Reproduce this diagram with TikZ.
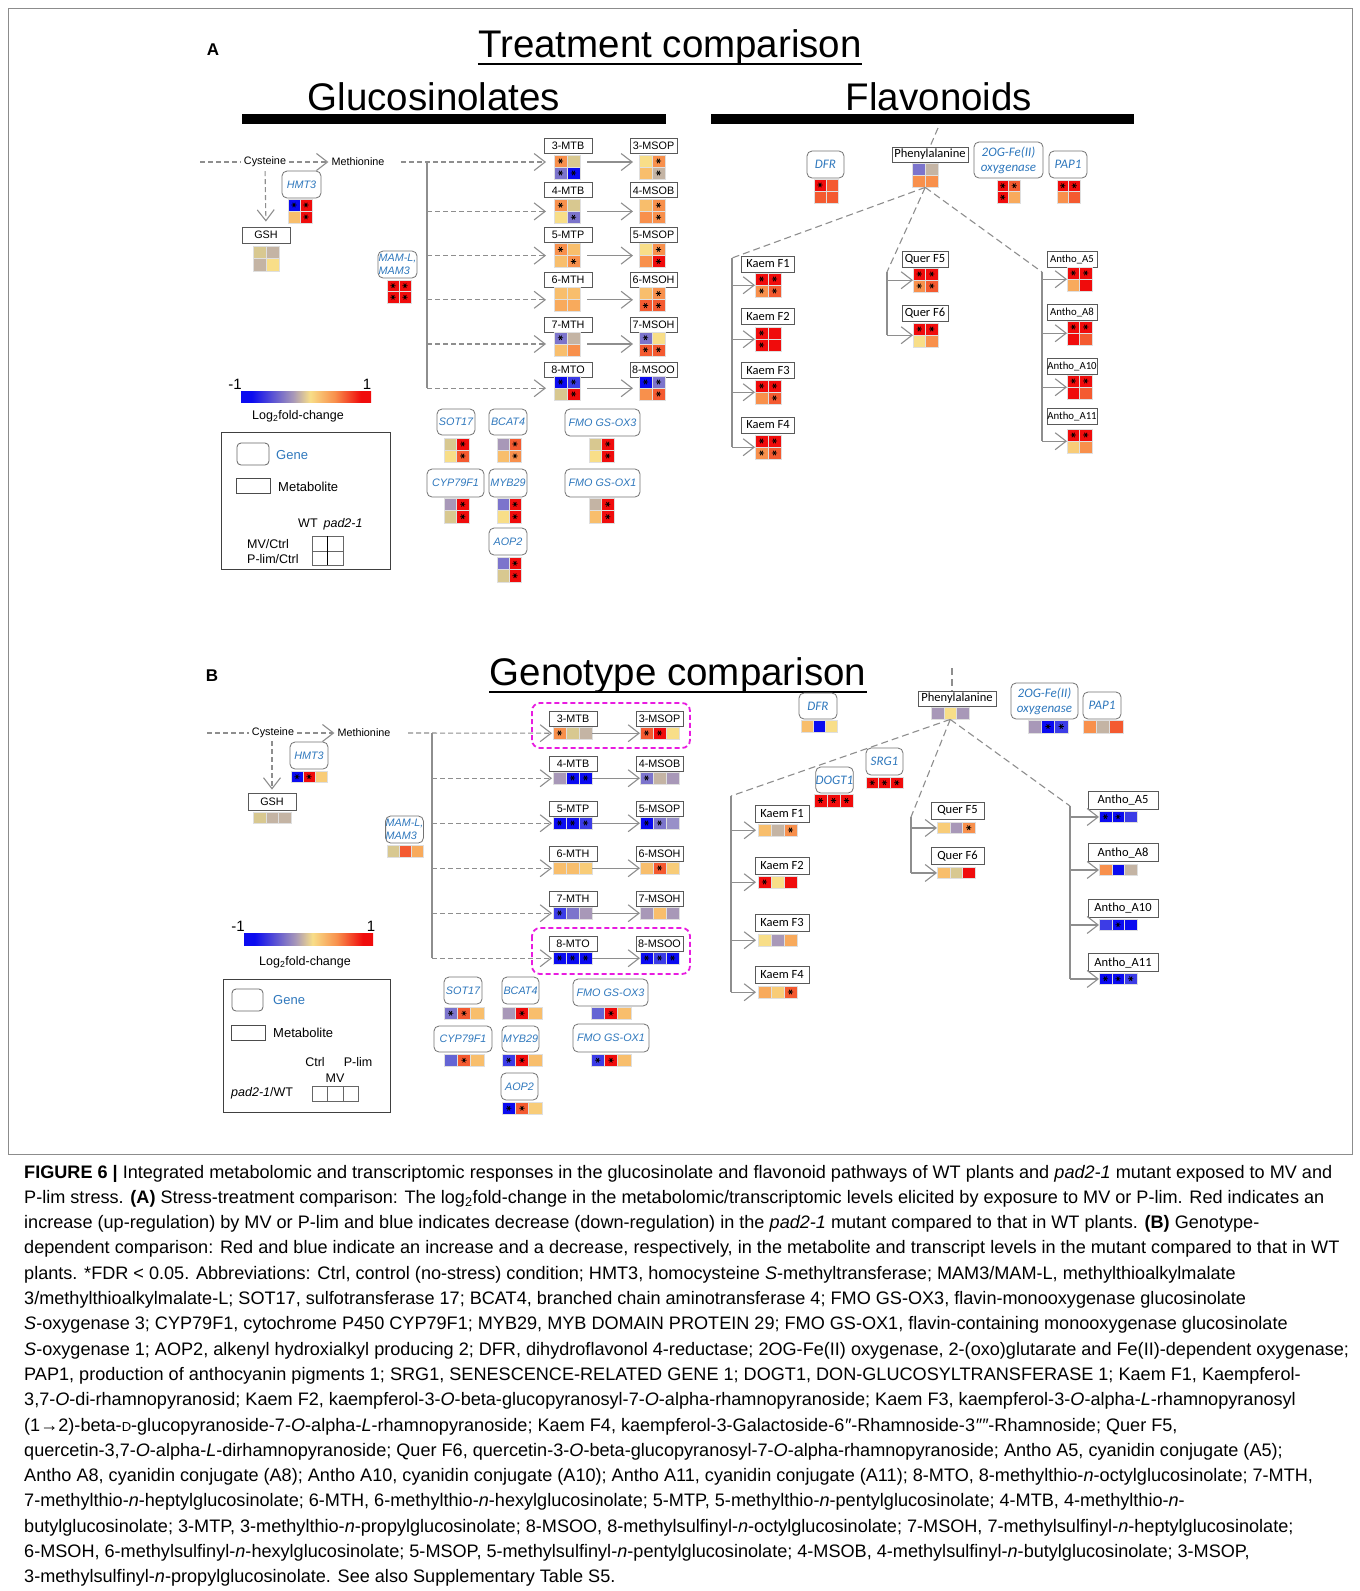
\documentclass[tikz,border=0pt]{standalone}
\usepackage{fontspec}
\setmainfont{Liberation Sans}
\newfontfamily\cfont{Carlito}
\usetikzlibrary{arrows.meta}
\definecolor{hB}{HTML}{0B0BF0}
\definecolor{hB2}{HTML}{3C3CE6}
\definecolor{hLBd}{HTML}{6464D4}
\definecolor{hLB}{HTML}{7C74CC}
\definecolor{hLB2}{HTML}{9890C8}
\definecolor{hLG}{HTML}{A898B8}
\definecolor{hGT}{HTML}{C4B4A4}
\definecolor{hT}{HTML}{D8C890}
\definecolor{hY}{HTML}{F8DE88}
\definecolor{hYO}{HTML}{F8CC78}
\definecolor{hLO}{HTML}{F8BE6C}
\definecolor{hLO2}{HTML}{F8AA5C}
\definecolor{hO}{HTML}{F8904C}
\definecolor{hDO}{HTML}{F45A30}
\definecolor{hR}{HTML}{F00C0C}
\definecolor{genec}{HTML}{2F78BD}
\definecolor{ln}{HTML}{8E8E8E}
\definecolor{mag}{HTML}{E81CE0}
\pgfdeclarehorizontalshading{fcbar}{100bp}{color(0bp)=(hB); color(29bp)=(hB); color(45bp)=(hLG); color(51.5bp)=(hY); color(61bp)=(hO); color(71bp)=(hR); color(100bp)=(hR)}
\newcommand\fsz[1]{\fontsize{#1}{#1}\selectfont}
\newcommand\fszl[2]{\fontsize{#1}{#2}\selectfont}
\newcommand\starat[2]{%
  \pgfmathsetmacro\sxx{#1}\pgfmathsetmacro\syy{#2}%
  \draw[black, line width=0.75] ({\sxx-2.6},{\syy}) -- ({\sxx+2.6},{\syy})
    ({\sxx-1.3},{\syy-2.25}) -- ({\sxx+1.3},{\syy+2.25})
    ({\sxx-1.3},{\syy+2.25}) -- ({\sxx+1.3},{\syy-2.25});}
% name, x, y, cell w, cell h, ncols, nrows, list
\newcommand\hm[8]{%
  \foreach \cc/\ss [count=\ii from 0] in {#8}{%
    \pgfmathtruncatemacro\hcol{mod(\ii,#6)}%
    \pgfmathtruncatemacro\hrow{div(\ii,#6)}%
    \pgfmathsetmacro\hx{#2+\hcol*#4}%
    \pgfmathsetmacro\hy{#3+\hrow*#5}%
    \fill[\cc] (\hx,\hy) rectangle ++(#4,#5);
    \draw[white!75!gray, line width=0.4] (\hx,\hy) rectangle ++(#4,#5);
    \ifnum\ss=1 \starat{\hx+#4/2}{\hy+#5/2}\fi
  }%
  \path (#2,#3) node[name=#1, anchor=north west, inner sep=0, minimum width={#6*#4}, minimum height={#7*#5}] {};
}
\begin{document}
\begin{tikzpicture}[x=1pt,y=-1pt,
  solidln/.style={ln, line width=1.1},
  dashln/.style={ln, line width=1.1, dash pattern=on 5pt off 3pt},
  dashlong/.style={ln, line width=1.1, dash pattern=on 7pt off 4pt},
  openarr/.style={-{Straight Barb[length=11pt,width=17pt]}},
  metbox/.style={draw=black!65, line width=0.8, fill=white, inner sep=0, font=\fsz{10.8}},
  flbox/.style={draw=black!65, line width=0.8, fill=white, inner sep=0, font=\cfont\fsz{12.5}},
  genebox/.style={draw=black!55, line width=0.8, rounded corners=5, fill=white, inner sep=0, text=genec, font=\itshape\fsz{10.8}, align=center},
  fgenebox/.style={genebox, font=\cfont\itshape\fszl{13}{15}},
  txt/.style={inner sep=0, font=\fsz{10.8}},
  captxt/.style={anchor=base west, inner sep=0, font=\fsz{18.1}},
  ttl/.style={anchor=base, inner sep=0, font=\fsz{38.5}},
  lgtxt/.style={inner sep=0, font=\fsz{12.5}},
]
\useasboundingbox (0,0) rectangle (1360,1591);
\fill[white] (0,0) rectangle (1360,1591);
\draw[black!45, line width=1] (8,8) rectangle (1352,1154);

% ================= PANEL A =================
\node[anchor=base, inner sep=0, font=\bfseries\fsz{17}] (labA) at (213,55) {A};
\node[ttl] (ttA) at (670,57) {Treatment comparison};
\draw[line width=1.6] ([yshift=-7pt]ttA.base west) -- ([yshift=-7pt]ttA.base east);
\node[ttl] (glu) at (434,110) {Glucosinolates};
\node[ttl] (flv) at (939,110) {Flavonoids};
\node[fill=black, inner sep=0, minimum width=424, minimum height=10, anchor=north west] (barG) at (242,114) {};
\node[fill=black, inner sep=0, minimum width=423, minimum height=10, anchor=north west] (barF) at (711,114) {};

% cysteine / methionine
\coordinate (cysAL) at (200,162);
\node[txt] (cysA) at (265,162) {Cysteine};
\node[txt] (metA) at (358,162) {Methionine};
\coordinate (metAR) at (401,162);
\coordinate (vAt) at (427,162);
\draw[dashln] (cysAL) -- ([xshift=-3pt]cysA.west);
\draw[dashln, openarr] ([xshift=3pt]cysA.east) -- ([xshift=-3pt]metA.west);
\node[metbox, minimum width=48, minimum height=16] (gshA) at (266,235) {GSH};
\draw[dashln, openarr, shorten <=4pt, shorten >=5pt] (cysA.south) -- (gshA.north);
\hm{hgshA}{253}{246}{13}{12.5}{2}{2}{hT/0,hGT/0,hGT/0,hY/0}
\node[genebox, minimum width=39, minimum height=27] (hmtA) at (301.5,184.5) {HMT3};
\hm{hhmtA}{288}{199}{12}{12}{2}{2}{hB/1,hR/1,hLO/0,hR/1}
\node[genebox, minimum width=39, minimum height=27, align=left, font=\itshape\fszl{10.8}{13}] (mamA) at (397.5,264.5) {MAM-L,\\MAM3};
\hm{hmamA}{387}{280}{12}{11.5}{2}{2}{hR/1,hR/1,hR/1,hR/1}

% metabolite rows A
\node[metbox, minimum width=48, minimum height=15] (mA0) at (568,145.5) {3-MTB};
\node[metbox, minimum width=47, minimum height=15] (nA0) at (653.5,145.5) {3-MSOP};
\hm{hmA0}{554}{155}{13}{12}{2}{2}{hO/1,hT/0,hLB/1,hB/1}
\hm{hnA0}{639}{155}{13}{12}{2}{2}{hY/0,hO/1,hLO/0,hGT/1}
\node[metbox, minimum width=48, minimum height=15] (mA1) at (568,190.3) {4-MTB};
\node[metbox, minimum width=47, minimum height=15] (nA1) at (653.5,190.3) {4-MSOB};
\hm{hmA1}{554}{199.2}{13}{12}{2}{2}{hO/1,hT/0,hY/0,hLB/1}
\hm{hnA1}{639}{199.2}{13}{12}{2}{2}{hLO/0,hO/1,hO/0,hO/1}
\node[metbox, minimum width=48, minimum height=15] (mA2) at (568,235.1) {5-MTP};
\node[metbox, minimum width=47, minimum height=15] (nA2) at (653.5,235.1) {5-MSOP};
\hm{hmA2}{554}{243.4}{13}{12}{2}{2}{hO/1,hLO/0,hLO/0,hO/1}
\hm{hnA2}{639}{243.4}{13}{12}{2}{2}{hY/0,hO/1,hO/0,hR/1}
\node[metbox, minimum width=48, minimum height=15] (mA3) at (568,279.9) {6-MTH};
\node[metbox, minimum width=47, minimum height=15] (nA3) at (653.5,279.9) {6-MSOH};
\hm{hmA3}{554}{287.6}{13}{12}{2}{2}{hLO/0,hLO/0,hLO2/0,hLO2/0}
\hm{hnA3}{639}{287.6}{13}{12}{2}{2}{hLO/0,hO/1,hDO/1,hDO/1}
\node[metbox, minimum width=48, minimum height=15] (mA4) at (568,324.7) {7-MTH};
\node[metbox, minimum width=47, minimum height=15] (nA4) at (653.5,324.7) {7-MSOH};
\hm{hmA4}{554}{331.8}{13}{12}{2}{2}{hLB/1,hGT/0,hLO/0,hO/0}
\hm{hnA4}{639}{331.8}{13}{12}{2}{2}{hLB/1,hY/0,hDO/1,hDO/1}
\node[metbox, minimum width=48, minimum height=15] (mA5) at (568,369.5) {8-MTO};
\node[metbox, minimum width=47, minimum height=15] (nA5) at (653.5,369.5) {8-MSOO};
\hm{hmA5}{554}{376}{13}{12}{2}{2}{hB/1,hB2/1,hT/0,hR/1}
\hm{hnA5}{639}{376}{13}{12}{2}{2}{hB/1,hLB/1,hO/0,hDO/1}

\draw[solidln] (vAt) -- (vAt |- hmA5.west);
\draw[dashln, openarr, shorten >=8pt] (metAR) -- (hmA0.west |- metAR);
\draw[solidln, openarr, shorten <=7pt, shorten >=6pt] (hmA0.east |- metAR) -- (hnA0.west |- metAR);
\foreach \k in {1,...,5}{
  \draw[dashln, openarr, shorten >=8pt] (vAt |- hmA\k.west) -- (hmA\k.west);
  \draw[solidln, openarr, shorten <=7pt, shorten >=6pt] (hmA\k.east) -- (hnA\k.west);
}

% genes A
\node[genebox, minimum width=38, minimum height=26] (sotA) at (456,422) {SOT17};
\hm{hsotA}{444}{438}{12.5}{12}{2}{2}{hT/0,hR/1,hY/0,hDO/1}
\node[genebox, minimum width=38, minimum height=26] (bcaA) at (508,422) {BCAT4};
\hm{hbcaA}{497}{438}{12}{12}{2}{2}{hLG/0,hDO/1,hLO/0,hO/1}
\node[genebox, minimum width=75, minimum height=27] (fo3A) at (602.5,422.5) {FMO GS-OX3};
\hm{hfo3A}{589}{438}{12.5}{12}{2}{2}{hT/0,hR/1,hY/0,hR/1}
\node[genebox, minimum width=57, minimum height=28] (cypA) at (455.5,483) {CYP79F1};
\hm{hcypA}{444}{498}{12.5}{12.5}{2}{2}{hLG/0,hR/1,hT/0,hR/1}
\node[genebox, minimum width=38, minimum height=28] (mybA) at (508,483) {MYB29};
\hm{hmybA}{497}{498}{12}{12.5}{2}{2}{hLB/0,hR/1,hY/0,hR/1}
\node[genebox, minimum width=75, minimum height=28] (fo1A) at (602.5,483) {FMO GS-OX1};
\hm{hfo1A}{589}{498}{12.5}{12.5}{2}{2}{hGT/0,hR/1,hLO/0,hR/1}
\node[genebox, minimum width=38, minimum height=27] (aopA) at (508,541.5) {AOP2};
\hm{haopA}{497}{557}{12}{12.5}{2}{2}{hLB/0,hR/1,hT/0,hR/1}

% legend A
\node[shade, shading=fcbar, inner sep=0, minimum width=130, minimum height=11, anchor=north west] (cbA) at (241,391) {};
\node[inner sep=0, font=\fsz{15}] (cbAm) at (235,384) {-1};
\node[inner sep=0, font=\fsz{15}] (cbAp) at (367,384) {1};
\node[lgtxt] (cbAl) at (298,416) {Log\textsubscript{2}fold-change};
\node[draw=black!75, line width=1, minimum width=169, minimum height=137, anchor=north west, inner sep=0] (lgA) at (221,432) {};
\node[draw=black!60, line width=0.8, rounded corners=4, minimum width=32, minimum height=22, inner sep=0] (lgAg) at (253,454) {};
\node[anchor=west, text=genec, font=\fsz{13}, inner sep=0] (lgAgt) at (276,455) {Gene};
\node[draw=black!70, line width=0.8, minimum width=34, minimum height=15, inner sep=0] (lgAm) at (253,485.5) {};
\node[anchor=west, font=\fsz{13}, inner sep=0] (lgAmt) at (278,487) {Metabolite};
\node[anchor=base west, lgtxt] (lgAwt) at (298,527) {WT\hspace{6pt}\textit{pad2-1}};
\node[draw=black!60, minimum width=31, minimum height=29, anchor=north west, inner sep=0] (lgAgr) at (312,536) {};
\draw[black!60] (lgAgr.west) -- (lgAgr.east);
\draw[black, line width=1] (lgAgr.north) -- (lgAgr.south);
\node[anchor=west, lgtxt] (lgAmv) at (247,544) {MV/Ctrl};
\node[anchor=west, lgtxt] (lgApl) at (247,559) {P-lim/Ctrl};

% flavonoids A
\coordinate (pheAup) at (938,128);
\node[flbox, minimum width=76, minimum height=15] (pheA) at (930,154.5) {Phenylalanine};
\draw[dashlong] (pheAup) -- (pheA.north);
\hm{hpheA}{912}{163}{13}{12}{2}{2}{hLB/0,hGT/0,hO/0,hO/0}
\node[fgenebox, minimum width=37, minimum height=27] (dfrA) at (825.5,164.5) {DFR};
\hm{hdfrA}{814}{179}{12}{12}{2}{2}{hR/1,hDO/0,hDO/0,hDO/0}
\node[fgenebox, minimum width=69, minimum height=36] (ogA) at (1008.5,160) {2OG-Fe(II)\\oxygenase};
\hm{hogA}{997}{180}{11.5}{11.5}{2}{2}{hR/1,hDO/1,hR/1,hLO2/0}
\node[fgenebox, minimum width=38, minimum height=27] (papA) at (1068,164.5) {PAP1};
\hm{hpapA}{1057}{180}{11.5}{11.5}{2}{2}{hR/1,hR/1,hO/0,hDO/0}

\coordinate (kAv) at (732,258);
\coordinate (qAv) at (887,272);
\coordinate (aAv) at (1042,272);
\draw[dashlong] (hpheA.south) -- (kAv);
\draw[dashlong] (hpheA.south) -- (qAv);
\draw[dashlong] (hpheA.south) -- (aAv);

\node[flbox, minimum width=53, minimum height=16] (kA1) at (768,264) {Kaem F1};
\hm{hkA1}{755}{273}{13}{12}{2}{2}{hR/1,hR/1,hO/1,hDO/1}
\node[flbox, minimum width=53, minimum height=16] (kA2) at (768,316) {Kaem F2};
\hm{hkA2}{755}{327}{13}{12}{2}{2}{hR/1,hR/0,hR/1,hR/0}
\node[flbox, minimum width=53, minimum height=16] (kA3) at (768,370) {Kaem F3};
\hm{hkA3}{755}{380}{13}{12}{2}{2}{hR/1,hR/1,hO/0,hDO/1}
\node[flbox, minimum width=53, minimum height=16] (kA4) at (768,425) {Kaem F4};
\hm{hkA4}{755}{435}{13}{12}{2}{2}{hR/1,hR/1,hO/1,hDO/1}
\draw[solidln] (kAv) -- (kAv |- hkA4.west);
\foreach \k in {1,...,4}{\draw[solidln, openarr] (kAv |- hkA\k.west) -- (hkA\k.west);}

\node[flbox, minimum width=46, minimum height=16] (qA5) at (925,259) {Quer F5};
\hm{hqA5}{913}{268}{12.5}{12}{2}{2}{hR/1,hR/1,hO/1,hDO/1}
\node[flbox, minimum width=46, minimum height=16] (qA6) at (925,313) {Quer F6};
\hm{hqA6}{913}{323}{12.5}{12}{2}{2}{hR/1,hR/1,hY/0,hO/0}
\draw[solidln] (qAv) -- (qAv |- hqA6.west);
\foreach \k in {5,6}{\draw[solidln, openarr] (qAv |- hqA\k.west) -- (hqA\k.west);}

\node[flbox, minimum width=50, minimum height=16, font=\cfont\fsz{10.8}] (aA5) at (1072,259) {Antho\_A5};
\hm{haA5}{1067}{267}{12.5}{12}{2}{2}{hR/1,hR/1,hLO2/0,hR/0}
\node[flbox, minimum width=50, minimum height=16, font=\cfont\fsz{10.8}] (aA8) at (1072,312) {Antho\_A8};
\hm{haA8}{1067}{321}{12.5}{12}{2}{2}{hR/1,hR/1,hR/0,hDO/0}
\node[flbox, minimum width=50, minimum height=16, font=\cfont\fsz{10.8}] (aA10) at (1072,366) {Antho\_A10};
\hm{haA10}{1067}{375}{12.5}{12}{2}{2}{hR/1,hR/1,hR/0,hDO/0}
\node[flbox, minimum width=50, minimum height=16, font=\cfont\fsz{10.8}] (aA11) at (1072,416) {Antho\_A11};
\hm{haA11}{1067}{429}{12.5}{12}{2}{2}{hR/1,hR/1,hYO/0,hO/0}
\draw[solidln] (aAv) -- (aAv |- haA11.west);
\foreach \k in {5,8,10,11}{\draw[solidln, openarr] (aAv |- haA\k.west) -- (haA\k.west);}

% ================= PANEL B =================
\node[anchor=base, inner sep=0, font=\bfseries\fsz{17}] (labB) at (212,681) {B};
\node[ttl] (ttB) at (678,685) {Genotype comparison};
\draw[line width=1.6] ([yshift=-7pt]ttB.base west) -- ([yshift=-7pt]ttB.base east);

\coordinate (cysBL) at (207,733);
\node[txt] (cysB) at (273,733) {Cysteine};
\node[txt] (metB) at (364,733) {Methionine};
\coordinate (metBR) at (408,733);
\coordinate (vBt) at (432,733);
\draw[dashln] (cysBL) -- ([xshift=-3pt]cysB.west);
\draw[dashln, openarr] ([xshift=3pt]cysB.east) -- ([xshift=-3pt]metB.west);
\node[metbox, minimum width=48, minimum height=17] (gshB) at (272,801.5) {GSH};
\draw[dashln, openarr, shorten <=3pt, shorten >=3pt] (cysB.south -| gshB.north) -- (gshB.north);
\hm{hgshB}{253}{812}{12.7}{11}{3}{1}{hT/0,hGT/0,hGT/0}
\node[genebox, minimum width=38, minimum height=27] (hmtB) at (309,755.5) {HMT3};
\hm{hhmtB}{291}{771}{12}{11.5}{3}{1}{hB/1,hR/1,hYO/0}
\node[genebox, minimum width=37, minimum height=27, align=left, font=\itshape\fszl{10.8}{13}] (mamB) at (404.5,829.5) {MAM-L,\\MAM3};
\hm{hmamB}{387}{845}{12}{12}{3}{1}{hT/0,hDO/0,hLO2/0}

\node[metbox, minimum width=48, minimum height=15] (mB0) at (573,718.5) {3-MTB};
\node[metbox, minimum width=47, minimum height=15] (nB0) at (659.5,718.5) {3-MSOP};
\hm{hmB0}{553}{727}{13}{12}{3}{1}{hO/1,hT/0,hGT/0}
\hm{hnB0}{640}{727}{13}{12}{3}{1}{hDO/1,hR/1,hY/0}
\node[metbox, minimum width=48, minimum height=15] (mB1) at (573,763.5) {4-MTB};
\node[metbox, minimum width=47, minimum height=15] (nB1) at (659.5,763.5) {4-MSOB};
\hm{hmB1}{553}{772}{13}{12}{3}{1}{hLG/0,hB/1,hB/1}
\hm{hnB1}{640}{772}{13}{12}{3}{1}{hLB/1,hGT/0,hLG/0}
\node[metbox, minimum width=48, minimum height=15] (mB2) at (573,808.5) {5-MTP};
\node[metbox, minimum width=47, minimum height=15] (nB2) at (659.5,808.5) {5-MSOP};
\hm{hmB2}{553}{817}{13}{12}{3}{1}{hB/1,hB/1,hB2/1}
\hm{hnB2}{640}{817}{13}{12}{3}{1}{hB/1,hLB/1,hLB2/0}
\node[metbox, minimum width=48, minimum height=15] (mB3) at (573,853.5) {6-MTH};
\node[metbox, minimum width=47, minimum height=15] (nB3) at (659.5,853.5) {6-MSOH};
\hm{hmB3}{553}{862}{13}{12}{3}{1}{hLO/0,hLO/0,hYO/0}
\hm{hnB3}{640}{862}{13}{12}{3}{1}{hLO/0,hDO/1,hYO/0}
\node[metbox, minimum width=48, minimum height=15] (mB4) at (573,898.5) {7-MTH};
\node[metbox, minimum width=47, minimum height=15] (nB4) at (659.5,898.5) {7-MSOH};
\hm{hmB4}{553}{907}{13}{12}{3}{1}{hB2/1,hLB/0,hLG/0}
\hm{hnB4}{640}{907}{13}{12}{3}{1}{hLG/0,hLO/0,hLG/0}
\node[metbox, minimum width=48, minimum height=15] (mB5) at (573,943.5) {8-MTO};
\node[metbox, minimum width=47, minimum height=15] (nB5) at (659.5,943.5) {8-MSOO};
\hm{hmB5}{553}{952}{13}{12}{3}{1}{hB/1,hB/1,hB/1}
\hm{hnB5}{640}{952}{13}{12}{3}{1}{hB/1,hB2/1,hB/1}

\draw[solidln] (vBt) -- (vBt |- hmB5.west);
\draw[dashln, openarr, shorten >=1pt] (metBR) -- (hmB0.west);
\draw[solidln, openarr] (hmB0.east) -- (hnB0.west);
\foreach \k in {1,...,5}{
  \draw[dashln, openarr, shorten >=1pt] (vBt |- hmB\k.west) -- (hmB\k.west);
  \draw[solidln, openarr] (hmB\k.east) -- (hnB\k.west);
}
\draw[mag, line width=1.8, dash pattern=on 5pt off 3pt, rounded corners=8] (532,703) rectangle (690,748);
\draw[mag, line width=1.8, dash pattern=on 5pt off 3pt, rounded corners=8] (532,928) rectangle (690,974);

% genes B
\node[genebox, minimum width=38, minimum height=27] (sotB) at (463,990.5) {SOT17};
\hm{hsotB}{444}{1007}{13.3}{12.5}{3}{1}{hLB/1,hDO/1,hLO/0}
\node[genebox, minimum width=37, minimum height=27] (bcaB) at (520.5,990.5) {BCAT4};
\hm{hbcaB}{502}{1007}{13.3}{12.5}{3}{1}{hLG/0,hR/1,hLO/0}
\node[genebox, minimum width=75, minimum height=27] (fo3B) at (610.5,992.5) {FMO GS-OX3};
\hm{hfo3B}{591}{1007}{13.3}{12.5}{3}{1}{hLBd/0,hR/1,hLO/0}
\node[genebox, minimum width=58, minimum height=26] (cypB) at (463,1039) {CYP79F1};
\hm{hcypB}{444}{1054}{13.3}{12.5}{3}{1}{hLBd/0,hDO/1,hLO/0}
\node[genebox, minimum width=37, minimum height=26] (mybB) at (520.5,1039) {MYB29};
\hm{hmybB}{502}{1054}{13.3}{12.5}{3}{1}{hB2/1,hR/1,hLO/0}
\node[genebox, minimum width=76, minimum height=28] (fo1B) at (611,1038) {FMO GS-OX1};
\hm{hfo1B}{591}{1054}{13.3}{12.5}{3}{1}{hB2/1,hR/1,hLO/0}
\node[genebox, minimum width=37, minimum height=27] (aopB) at (519.5,1086.5) {AOP2};
\hm{haopB}{502}{1102}{13.3}{12.5}{3}{1}{hB/1,hDO/1,hYO/0}

% legend B
\node[shade, shading=fcbar, inner sep=0, minimum width=129, minimum height=12, anchor=north west] (cbB) at (244,933) {};
\node[inner sep=0, font=\fsz{15}] (cbBm) at (238,926) {-1};
\node[inner sep=0, font=\fsz{15}] (cbBp) at (371,926) {1};
\node[lgtxt] (cbBl) at (305,962) {Log\textsubscript{2}fold-change};
\node[draw=black!75, line width=1, minimum width=167, minimum height=133, anchor=north west, inner sep=0] (lgB) at (223,979) {};
\node[draw=black!60, line width=0.8, rounded corners=4, minimum width=31, minimum height=22, inner sep=0] (lgBg) at (247.5,1000) {};
\node[anchor=west, text=genec, font=\fsz{13}, inner sep=0] (lgBgt) at (273,1000) {Gene};
\node[draw=black!70, line width=0.8, minimum width=34, minimum height=15, inner sep=0] (lgBm) at (248,1032.5) {};
\node[anchor=west, font=\fsz{13}, inner sep=0] (lgBmt) at (273,1033) {Metabolite};
\node[lgtxt] (lgBc) at (315,1062) {Ctrl};
\node[lgtxt] (lgBp) at (358,1062) {P-lim};
\node[lgtxt] (lgBv) at (335,1078) {MV};
\node[anchor=west, lgtxt] (lgBw) at (231,1093) {\textit{pad2-1}/WT};
\node[draw=black!60, minimum width=46, minimum height=15, anchor=north west, inner sep=0] (lgBgr) at (312,1086) {};
\draw[black!60] ([xshift=15.3pt]lgBgr.north west) -- ([xshift=15.3pt]lgBgr.south west);
\draw[black!60] ([xshift=-15.3pt]lgBgr.north east) -- ([xshift=-15.3pt]lgBgr.south east);

% flavonoids B
\coordinate (pheBup) at (952,668);
\node[flbox, minimum width=78, minimum height=15] (pheB) at (957,698.5) {Phenylalanine};
\draw[dashlong] (pheBup) -- (pheB.north -| pheBup);
\hm{hpheB}{931}{707}{12.7}{12}{3}{1}{hLG/0,hY/0,hLG/0}
\node[fgenebox, minimum width=38, minimum height=26] (dfrB) at (818,706) {DFR};
\hm{hdfrB}{801}{720}{12}{12}{3}{1}{hLO/0,hB/0,hY/0}
\node[fgenebox, minimum width=67, minimum height=36] (ogB) at (1044.5,701) {2OG-Fe(II)\\oxygenase};
\hm{hogB}{1028}{720}{13.3}{13}{3}{1}{hLG/0,hB/1,hB2/1}
\node[fgenebox, minimum width=38, minimum height=27] (papB) at (1102,705.5) {PAP1};
\hm{hpapB}{1083}{720}{13.3}{13}{3}{1}{hO/0,hGT/0,hDO/0}

\coordinate (kBv) at (731,796);
\coordinate (qBv) at (911,817);
\coordinate (aBv) at (1070,806);
\draw[dashlong] (hpheB.south) -- (kBv);
\draw[dashlong] (hpheB.south) -- (qBv);
\draw[dashlong] (hpheB.south) -- (aBv);

\node[fgenebox, minimum width=37, minimum height=27] (srgB) at (884.5,761.5) {SRG1};
\hm{hsrgB}{866}{777}{12.3}{11.5}{3}{1}{hR/1,hR/1,hR/1}
\node[fgenebox, minimum width=37, minimum height=26] (dogB) at (834.5,780) {DOGT1};
\hm{hdogB}{814}{794}{13}{13}{3}{1}{hR/1,hR/1,hR/1}

\node[flbox, minimum width=54, minimum height=17] (kB1) at (782,813.5) {Kaem F1};
\hm{hkB1}{758}{824}{13}{12}{3}{1}{hLO/0,hGT/0,hO/1}
\node[flbox, minimum width=54, minimum height=17] (kB2) at (782,865.5) {Kaem F2};
\hm{hkB2}{758}{876}{13}{12}{3}{1}{hR/1,hY/0,hR/0}
\node[flbox, minimum width=54, minimum height=17] (kB3) at (782,922.5) {Kaem F3};
\hm{hkB3}{758}{934}{13}{12}{3}{1}{hY/0,hLG/0,hLO2/0}
\node[flbox, minimum width=54, minimum height=17] (kB4) at (782,974.5) {Kaem F4};
\hm{hkB4}{758}{986}{13}{12}{3}{1}{hLO2/0,hYO/0,hDO/1}
\draw[solidln] (kBv) -- (kBv |- hkB4.west);
\foreach \k in {1,...,4}{\draw[solidln, openarr, shorten >=2pt] (kBv |- hkB\k.west) -- (hkB\k.west);}

\node[flbox, minimum width=53, minimum height=17] (qB5) at (957.5,810.5) {Quer F5};
\hm{hqB5}{937}{822}{12.7}{11.5}{3}{1}{hYO/0,hLG/0,hO/1}
\node[flbox, minimum width=53, minimum height=17] (qB6) at (957.5,856) {Quer F6};
\hm{hqB6}{937}{867}{12.7}{11.5}{3}{1}{hLO/0,hT/0,hR/0}
\draw[solidln] (qBv) -- (qBv |- hqB6.west);
\foreach \k in {5,6}{\draw[solidln, openarr] (qBv |- hqB\k.west) -- (hqB\k.west);}

\node[flbox, minimum width=70, minimum height=18] (aB5) at (1123,800) {Antho\_A5};
\hm{haB5}{1099}{811}{12.7}{11.5}{3}{1}{hB/1,hB/1,hB2/0}
\node[flbox, minimum width=70, minimum height=18] (aB8) at (1123,852.5) {Antho\_A8};
\hm{haB8}{1099}{864}{12.7}{11.5}{3}{1}{hO/0,hB/0,hGT/0}
\node[flbox, minimum width=70, minimum height=18] (aB10) at (1123,908) {Antho\_A10};
\hm{haB10}{1099}{919}{12.7}{11.5}{3}{1}{hB2/0,hB/1,hB/0}
\node[flbox, minimum width=70, minimum height=18] (aB11) at (1123,962.5) {Antho\_A11};
\hm{haB11}{1099}{973}{12.7}{11.5}{3}{1}{hB/1,hB/1,hB2/1}
\draw[solidln] (aBv) -- (aBv |- haB11.west);
\foreach \k in {5,8,10,11}{\draw[solidln, openarr] (aBv |- haB\k.west) -- (haB\k.west);}

% ================= CAPTION =================
\node[captxt] (c1) at (24,1178) {\textbf{FIGURE 6 |} Integrated metabolomic and transcriptomic responses in the glucosinolate and flavonoid pathways of WT plants and \textit{pad2-1} mutant exposed to MV and};
\node[captxt] (c2) at (24,1203.3) {P-lim stress. \textbf{(A)} Stress-treatment comparison: The log\textsubscript{2}fold-change in the metabolomic/transcriptomic levels elicited by exposure to MV or P-lim. Red indicates an};
\node[captxt] (c3) at (24,1228.6) {increase (up-regulation) by MV or P-lim and blue indicates decrease (down-regulation) in the \textit{pad2-1} mutant compared to that in WT plants. \textbf{(B)} Genotype-};
\node[captxt] (c4) at (24,1253.9) {dependent comparison: Red and blue indicate an increase and a decrease, respectively, in the metabolite and transcript levels in the mutant compared to that in WT};
\node[captxt] (c5) at (24,1279.2) {plants. *FDR < 0.05. Abbreviations: Ctrl, control (no-stress) condition; HMT3, homocysteine \textit{S}-methyltransferase; MAM3/MAM-L, methylthioalkylmalate};
\node[captxt] (c6) at (24,1304.5) {3/methylthioalkylmalate-L; SOT17, sulfotransferase 17; BCAT4, branched chain aminotransferase 4; FMO GS-OX3, flavin-monooxygenase glucosinolate};
\node[captxt] (c7) at (24,1329.8) {\textit{S}-oxygenase 3; CYP79F1, cytochrome P450 CYP79F1; MYB29, MYB DOMAIN PROTEIN 29; FMO GS-OX1, flavin-containing monooxygenase glucosinolate};
\node[captxt] (c8) at (24,1355.1) {\textit{S}-oxygenase 1; AOP2, alkenyl hydroxialkyl producing 2; DFR, dihydroflavonol 4-reductase; 2OG-Fe(II) oxygenase, 2-(oxo)glutarate and Fe(II)-dependent oxygenase;};
\node[captxt] (c9) at (24,1380.4) {PAP1, production of anthocyanin pigments 1; SRG1, SENESCENCE-RELATED GENE 1; DOGT1, DON-GLUCOSYLTRANSFERASE 1; Kaem F1, Kaempferol-};
\node[captxt] (c10) at (24,1405.7) {3,7-\textit{O}-di-rhamnopyranosid; Kaem F2, kaempferol-3-\textit{O}-beta-glucopyranosyl-7-\textit{O}-alpha-rhamnopyranoside; Kaem F3, kaempferol-3-\textit{O}-alpha-\textit{L}-rhamnopyranosyl};
\node[captxt] (c11) at (24,1431) {(1→2)-beta-{\fsz{13}D}-glucopyranoside-7-\textit{O}-alpha-\textit{L}-rhamnopyranoside; Kaem F4, kaempferol-3-Galactoside-6\textit{″}-Rhamnoside-3\textit{″″}-Rhamnoside; Quer F5,};
\node[captxt] (c12) at (24,1456.3) {quercetin-3,7-\textit{O}-alpha-\textit{L}-dirhamnopyranoside; Quer F6, quercetin-3-\textit{O}-beta-glucopyranosyl-7-\textit{O}-alpha-rhamnopyranoside; Antho A5, cyanidin conjugate (A5);};
\node[captxt] (c13) at (24,1481.6) {Antho A8, cyanidin conjugate (A8); Antho A10, cyanidin conjugate (A10); Antho A11, cyanidin conjugate (A11); 8-MTO, 8-methylthio-\textit{n}-octylglucosinolate; 7-MTH,};
\node[captxt] (c14) at (24,1506.9) {7-methylthio-\textit{n}-heptylglucosinolate; 6-MTH, 6-methylthio-\textit{n}-hexylglucosinolate; 5-MTP, 5-methylthio-\textit{n}-pentylglucosinolate; 4-MTB, 4-methylthio-\textit{n}-};
\node[captxt] (c15) at (24,1532.2) {butylglucosinolate; 3-MTP, 3-methylthio-\textit{n}-propylglucosinolate; 8-MSOO, 8-methylsulfinyl-\textit{n}-octylglucosinolate; 7-MSOH, 7-methylsulfinyl-\textit{n}-heptylglucosinolate;};
\node[captxt] (c16) at (24,1557.5) {6-MSOH, 6-methylsulfinyl-\textit{n}-hexylglucosinolate; 5-MSOP, 5-methylsulfinyl-\textit{n}-pentylglucosinolate; 4-MSOB, 4-methylsulfinyl-\textit{n}-butylglucosinolate; 3-MSOP,};
\node[captxt] (c17) at (24,1582.8) {3-methylsulfinyl-\textit{n}-propylglucosinolate. See also Supplementary Table S5.};
\end{tikzpicture}
\end{document}
